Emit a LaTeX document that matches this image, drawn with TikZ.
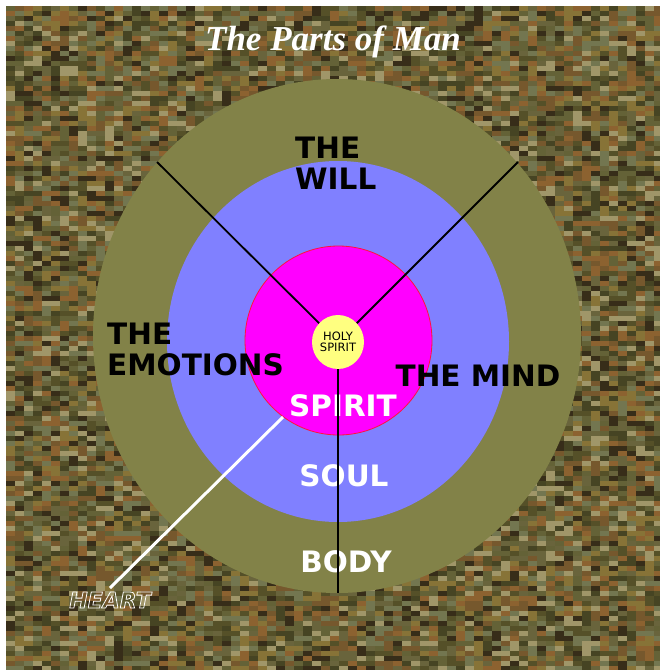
\documentclass[tikz,border=0pt]{standalone}
\usepackage{fontspec}
\usetikzlibrary{shapes.geometric}
\newfontfamily\labfont{DejaVu Sans}
\newfontfamily\ttlfont{Liberation Serif}
\definecolor{texbase}{RGB}{100,90,48}
\definecolor{tex0}{RGB}{70,68,35}
\definecolor{tex1}{RGB}{100,98,55}
\definecolor{tex2}{RGB}{118,88,45}
\definecolor{tex3}{RGB}{140,98,48}
\definecolor{tex4}{RGB}{160,150,105}
\definecolor{tex5}{RGB}{55,45,25}
\definecolor{tex6}{RGB}{115,118,80}
\definecolor{tex7}{RGB}{135,115,55}
\definecolor{tex8}{RGB}{85,80,40}
\definecolor{tex9}{RGB}{105,100,60}
\definecolor{olivering}{RGB}{130,130,72}
\definecolor{bluering}{RGB}{128,128,255}
\definecolor{magring}{RGB}{255,0,255}
\definecolor{magedge}{RGB}{255,20,60}
\definecolor{yellowc}{RGB}{255,255,128}
\tikzset{
  ring/.style={ellipse, inner sep=0pt, draw=none},
  darklabel/.style={font=\labfont\bfseries\fontsize{29.5}{29.5}\selectfont, text=black, inner sep=0pt, align=left},
  whitelabel/.style={font=\labfont\bfseries\fontsize{29.5}{29.5}\selectfont, text=white, inner sep=0pt},
  divider/.style={draw=black, line width=1.8pt},
}
\begin{document}
\begin{tikzpicture}[x=1pt,y=-1pt]
\useasboundingbox (0,0) rectangle (660,670);
\fill[white] (0,0) rectangle (660,670);
\fill[texbase] (6,6) rectangle (660,670);
\pgfmathsetseed{11}
\foreach \i in {0,...,72}{
  \foreach \j in {0,...,132}{
    \pgfmathrandominteger{\c}{0}{9}
    \fill[tex\c] ({6+9*\i},{6+5*\j}) rectangle +(9,5);
  }
}
% title
\node[font=\ttlfont\bfseries\itshape\fontsize{35}{35}\selectfont, text=white, inner sep=0pt] (title) at (333,42) {The Parts of Man};
% rings
\node[ring, fill=olivering, minimum width=488pt, minimum height=514pt] (body) at (337,336) {};
\node[ring, fill=bluering, minimum width=342pt, minimum height=361pt] (soul) at (338,341.5) {};
\node[ring, fill=magring, draw=magedge, line width=0.8pt, minimum width=187pt, minimum height=189pt] (spirit) at (338.5,340.5) {};
\node[ring, fill=yellowc, minimum width=52pt, minimum height=54pt, font=\labfont\fontsize{11.5}{12}\selectfont, align=center] (holy) at (338,342) {HOLY\\[-1pt]SPIRIT};
% labels
\node[darklabel, anchor=north west] (will) at (295,137) {THE\\[1pt]WILL};
\node[darklabel, anchor=north west] (emo) at (107,323) {THE\\[1pt]EMOTIONS};
\node[darklabel] (mind) at (478,376) {THE MIND};
\node[whitelabel] (spiritlbl) at (343,406) {SPIRIT};
\node[whitelabel] (soullbl) at (344,476) {SOUL};
\node[whitelabel] (bodylbl) at (346,562) {BODY};
% connectors
\coordinate (wl) at (157,162);
\coordinate (wr) at (518,162);
\coordinate (bb) at (338,593);
\coordinate (ha) at (283,417);
\coordinate (hb) at (110,588);
\draw[divider] (wl) -- (holy);
\draw[divider] (wr) -- (holy);
\draw[divider] (holy) -- (bb);
\draw[white, line width=3pt] (ha) -- (hb);
\node[font=\labfont\bfseries\itshape\fontsize{22}{22}\selectfont, inner sep=0pt] (heart) at (110,600) {\special{pdf:literal direct 1 Tr 0.8 w 1 1 1 RG}HEART\special{pdf:literal direct 0 Tr}};
\end{tikzpicture}
\end{document}
